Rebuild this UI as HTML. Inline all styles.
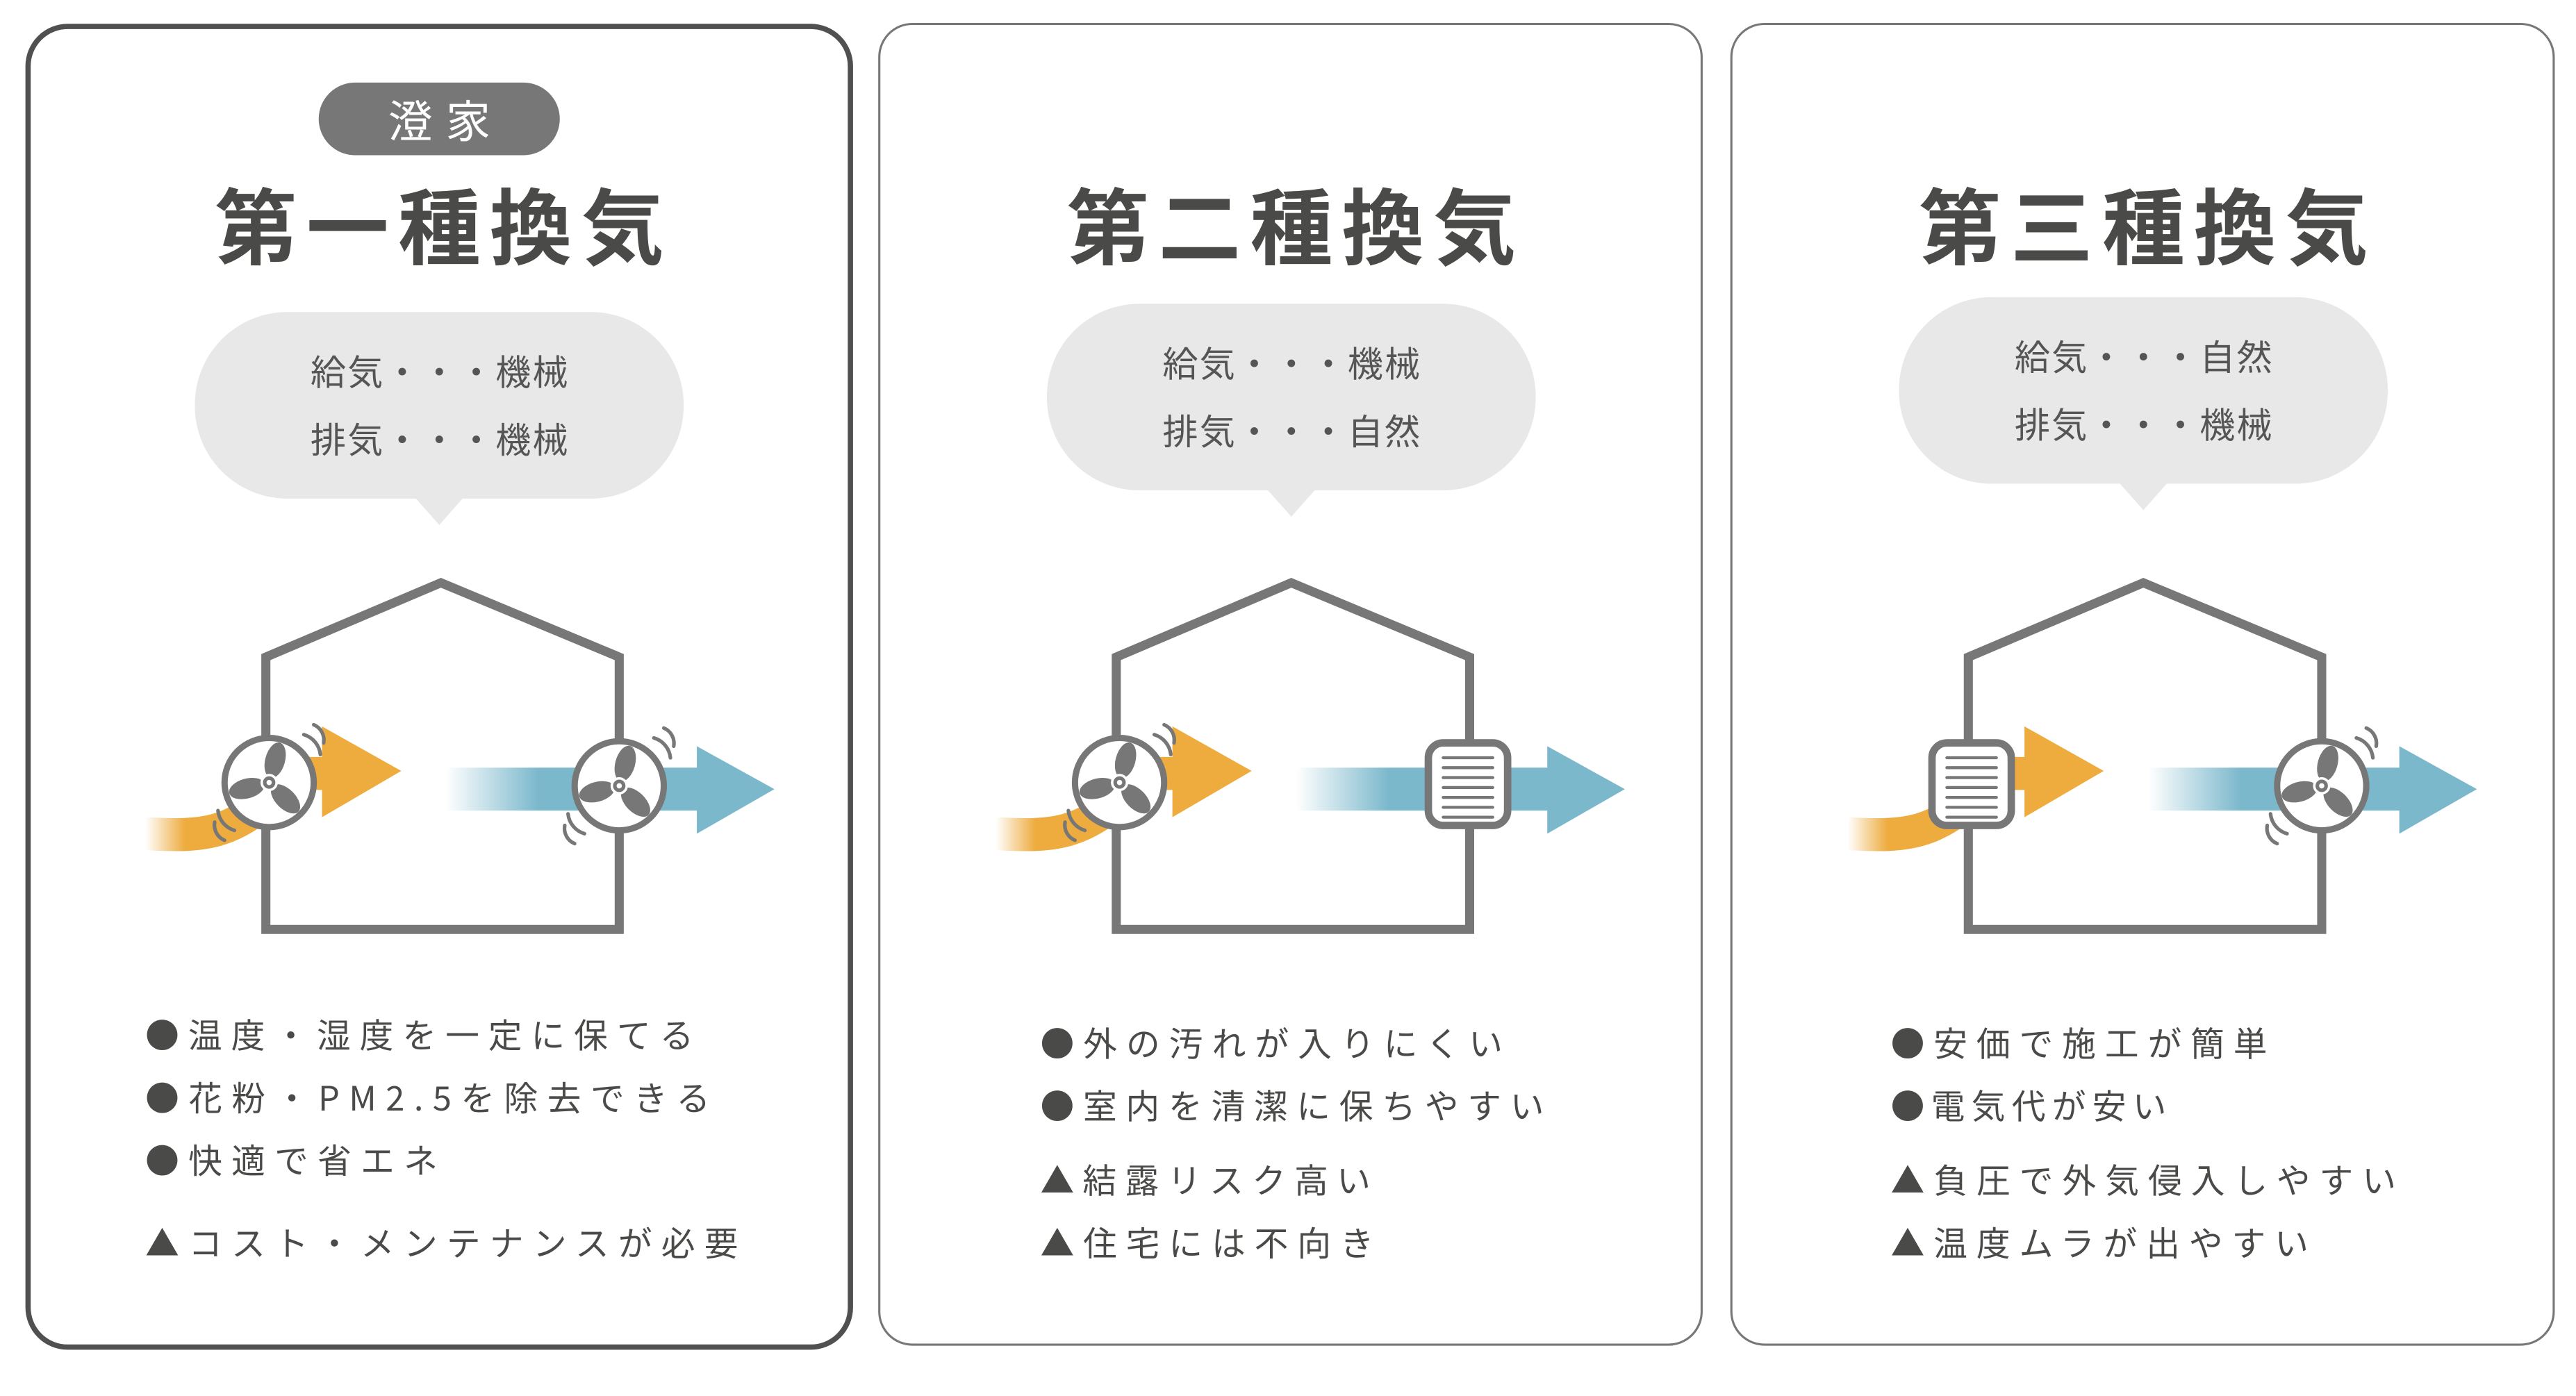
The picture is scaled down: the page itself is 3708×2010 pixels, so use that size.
<!DOCTYPE html>
<html><head><meta charset="utf-8"><style>
html,body{margin:0;padding:0;background:#fff;}
svg{display:block;}
text{font-family:"Noto Sans CJK JP","Liberation Sans",sans-serif;}
</style></head><body>
<svg width="3708" height="2010" viewBox="0 0 1560 845.6" xmlns="http://www.w3.org/2000/svg">
<defs>
  <linearGradient id="bf" x1="0" x2="1" y1="0" y2="0">
    <stop offset="0" stop-color="#7BB8CC" stop-opacity="0"/>
    <stop offset="0.35" stop-color="#7BB8CC" stop-opacity="1"/>
    <stop offset="1" stop-color="#7BB8CC"/>
  </linearGradient>
  <linearGradient id="of" x1="88" x2="112" y1="0" y2="0" gradientUnits="userSpaceOnUse">
    <stop offset="0" stop-color="#EEAC3F" stop-opacity="0"/>
    <stop offset="1" stop-color="#EEAC3F"/>
  </linearGradient>
  <g id="fan">
    <circle r="27" fill="#fff" stroke="#777" stroke-width="3.8"/>
    <ellipse cx="0" cy="-14" rx="6" ry="11" fill="#777" transform="rotate(15)"/>
    <ellipse cx="0" cy="-14" rx="6" ry="11" fill="#777" transform="rotate(-105)"/>
    <ellipse cx="0" cy="-14" rx="6" ry="11" fill="#777" transform="rotate(135)"/>
    <circle r="4.5" fill="#777" stroke="#fff" stroke-width="1.5"/>
    <circle r="1.6" fill="#fff"/>
    <path d="M21,-29 A14,14 0 0 1 31,-17 M27,-35 A10,10 0 0 1 33,-24" fill="none" stroke="#777" stroke-width="2.2" stroke-linecap="round"/>
    <path d="M-21,29 A14,14 0 0 1 -31,17 M-27,35 A10,10 0 0 1 -33,24" fill="none" stroke="#777" stroke-width="2.2" stroke-linecap="round"/>
  </g>
  <g id="vent">
    <rect x="-24" y="-24" width="48" height="50" rx="9" fill="#fff" stroke="#777" stroke-width="4.5"/>
    <g stroke="#777" stroke-width="1.8" stroke-linecap="round">
      <line x1="-15" y1="-15" x2="15" y2="-15"/><line x1="-15" y1="-9" x2="15" y2="-9"/>
      <line x1="-15" y1="-3" x2="15" y2="-3"/><line x1="-15" y1="3" x2="15" y2="3"/>
      <line x1="-15" y1="9" x2="15" y2="9"/><line x1="-15" y1="15" x2="15" y2="15"/>
      <line x1="-15" y1="21" x2="15" y2="21"/>
    </g>
  </g>
  <path id="house" d="M161,563 L161,398 L267,353 L375,398 L375,563 Z" fill="none" stroke="#777" stroke-width="5.5"/>
  <path id="otail" d="M88,505 C125,507 140,505 168,480" fill="none" stroke="url(#of)" stroke-width="20"/>
</defs>

<rect x="17" y="16" width="498" height="800" rx="24" fill="#fff" stroke="#505050" stroke-width="3.2"/>
<rect x="532.5" y="14.5" width="498" height="800" rx="20" fill="#fff" stroke="#777" stroke-width="1.3"/>
<rect x="1048.5" y="14.5" width="498" height="800" rx="20" fill="#fff" stroke="#777" stroke-width="1.3"/>

<rect x="193" y="50" width="146" height="44" rx="22" fill="#777"/>
<text x="266" y="72" text-anchor="middle" dominant-baseline="central" font-size="27" fill="#fff" textLength="62" lengthAdjust="spacing">澄家</text>

<g font-size="50" font-weight="bold" fill="#4a4a48" text-anchor="middle">
<text x="266" y="156" textLength="272" lengthAdjust="spacing">第一種換気</text>
<text x="782" y="156" textLength="272" lengthAdjust="spacing">第二種換気</text>
<text x="1298" y="156" textLength="272" lengthAdjust="spacing">第三種換気</text>
</g>

<g fill="#e8e8e8">
<rect x="118" y="189" width="296" height="113" rx="56"/><polygon points="251,301 281,301 266,318"/>
<rect x="634" y="184" width="296" height="113" rx="56"/><polygon points="767,296 797,296 782,313"/>
<rect x="1150" y="180" width="296" height="113" rx="56"/><polygon points="1283,292 1313,292 1298,309"/>
</g>
<g font-size="21.5" fill="#555" text-anchor="middle" dominant-baseline="central">
<text x="266" y="224" textLength="156" lengthAdjust="spacing">給気・・・機械</text>
<text x="266" y="265" textLength="156" lengthAdjust="spacing">排気・・・機械</text>
<text x="782" y="219" textLength="156" lengthAdjust="spacing">給気・・・機械</text>
<text x="782" y="260" textLength="156" lengthAdjust="spacing">排気・・・自然</text>
<text x="1298" y="215" textLength="156" lengthAdjust="spacing">給気・・・自然</text>
<text x="1298" y="256" textLength="156" lengthAdjust="spacing">排気・・・機械</text>
</g>

<use href="#house"/>
<use href="#otail"/>
<rect x="160" y="458.5" width="38" height="20" fill="#EEAC3F"/>
<polygon points="195,440 243,467 195,495" fill="#EEAC3F"/>
<rect x="270" y="465" width="160" height="26" fill="url(#bf)"/>
<polygon points="422,452 469,478 422,505" fill="#7BB8CC"/>
<use href="#fan" x="163" y="474"/>
<use href="#fan" x="375" y="476"/>

<g transform="translate(515,0)">
<use href="#house"/>
<use href="#otail"/>
<rect x="160" y="458.5" width="38" height="20" fill="#EEAC3F"/>
<polygon points="195,440 243,467 195,495" fill="#EEAC3F"/>
<rect x="270" y="465" width="160" height="26" fill="url(#bf)"/>
<polygon points="422,452 469,478 422,505" fill="#7BB8CC"/>
<use href="#fan" x="163" y="474"/>
<use href="#vent" x="374" y="474"/>
</g>

<g transform="translate(1031,0)">
<use href="#house"/>
<use href="#otail"/>
<rect x="160" y="458.5" width="38" height="20" fill="#EEAC3F"/>
<polygon points="195,440 243,467 195,495" fill="#EEAC3F"/>
<rect x="270" y="465" width="160" height="26" fill="url(#bf)"/>
<polygon points="422,452 469,478 422,505" fill="#7BB8CC"/>
<use href="#vent" x="163" y="474"/>
<use href="#fan" x="375" y="476"/>
</g>

<g font-size="20.5" fill="#4a4a48" dominant-baseline="central">
<text x="88" y="626" textLength="332" lengthAdjust="spacing">●温度・湿度を一定に保てる</text>
<text x="88" y="664" textLength="342" lengthAdjust="spacing">●花粉・PM2.5を除去できる</text>
<text x="88" y="702" textLength="177" lengthAdjust="spacing">●快適で省エネ</text>
<text x="88" y="752" textLength="359" lengthAdjust="spacing">▲コスト・メンテナンスが必要</text>

<text x="630" y="631" textLength="280" lengthAdjust="spacing">●外の汚れが入りにくい</text>
<text x="630" y="669" textLength="305" lengthAdjust="spacing">●室内を清潔に保ちやすい</text>
<text x="630" y="714" textLength="200" lengthAdjust="spacing">▲結露リスク高い</text>
<text x="630" y="752" textLength="202" lengthAdjust="spacing">▲住宅には不向き</text>

<text x="1145" y="631" textLength="228" lengthAdjust="spacing">●安価で施工が簡単</text>
<text x="1145" y="669" textLength="167" lengthAdjust="spacing">●電気代が安い</text>
<text x="1145" y="714" textLength="306" lengthAdjust="spacing">▲負圧で外気侵入しやすい</text>
<text x="1145" y="752" textLength="253" lengthAdjust="spacing">▲温度ムラが出やすい</text>
</g>
</svg>
</body></html>
